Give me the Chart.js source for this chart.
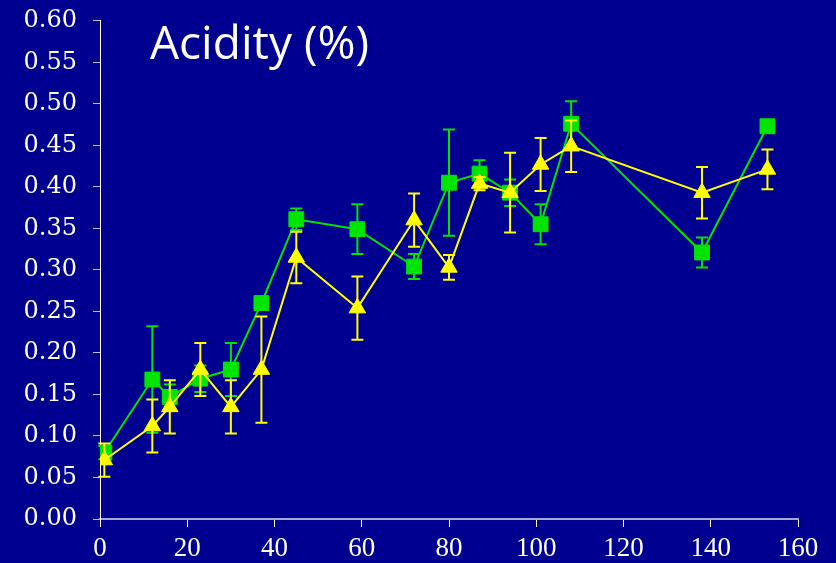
<!DOCTYPE html>
<html>
<head>
<meta charset="utf-8">
<script src="https://cdn.jsdelivr.net/npm/chart.js@4.4.1/dist/chart.umd.min.js"></script>
<style>
  html, body { margin: 0; padding: 0; background: #000090; }
  #wrap { position: relative; width: 836px; height: 563px; }
</style>
</head>
<body>
<div id="wrap"><canvas id="c" width="836" height="563"></canvas></div>
<script>
const days = [1, 12, 16, 23, 30, 37, 45, 59, 72, 80, 87, 94, 101, 108, 138, 153];
const greenValues = [0.080, 0.168, 0.147, 0.169, 0.180, 0.260, 0.361, 0.349, 0.304, 0.405, 0.416, 0.393, 0.355, 0.476, 0.321, 0.473];
const greenErrors = [0.008, 0.064, 0.015, 0.016, 0.032, 0.008, 0.013, 0.030, 0.015, 0.064, 0.016, 0.016, 0.024, 0.027, 0.018, 0.000];
const yellowValues = [0.071, 0.112, 0.135, 0.180, 0.135, 0.180, 0.315, 0.254, 0.360, 0.303, 0.404, 0.393, 0.427, 0.449, 0.393, 0.421];
const yellowErrors = [0.020, 0.032, 0.032, 0.032, 0.032, 0.064, 0.031, 0.038, 0.032, 0.015, 0.008, 0.048, 0.032, 0.031, 0.031, 0.024];
const xTicks = [0, 20, 40, 60, 80, 100, 120, 140, 160];
const yTicks = [0.00, 0.05, 0.10, 0.15, 0.20, 0.25, 0.30, 0.35, 0.40, 0.45, 0.50, 0.55, 0.60];
const chartTitle = 'Acidity (%)';

const GREEN = '#00e400';
const YELLOW = '#ffff00';

const errorBarPlugin = {
  id: 'errorBars',
  beforeDatasetDraw(chart, args) {
    const ds = chart.data.datasets[args.index];
    if (!ds.errors) return;
    const ctx = chart.ctx;
    const xs = chart.scales.x, ys = chart.scales.y;
    ctx.save();
    ctx.strokeStyle = ds.borderColor;
    ctx.lineWidth = 2;
    ds.data.forEach((p, i) => {
      const e = ds.errors[i];
      if (!e) return;
      const px = xs.getPixelForValue(p.x);
      const top = ys.getPixelForValue(p.y + e);
      const bot = ys.getPixelForValue(p.y - e);
      ctx.beginPath();
      ctx.moveTo(px, top); ctx.lineTo(px, bot);
      ctx.moveTo(px - 6, top); ctx.lineTo(px + 6, top);
      ctx.moveTo(px - 6, bot); ctx.lineTo(px + 6, bot);
      ctx.stroke();
    });
    ctx.restore();
  }
};

const titlePlugin = {
  id: 'innerTitle',
  afterDraw(chart) {
    const ctx = chart.ctx;
    ctx.save();
    ctx.fillStyle = '#ffffff';
    ctx.font = '46px "Comic Sans MS", "Open Sans", sans-serif';
    ctx.textBaseline = 'alphabetic';
    ctx.textAlign = 'left';
    ctx.fillText(chartTitle, 150, 59);
    ctx.restore();
  }
};

const bgPlugin = {
  id: 'bg',
  beforeDraw(chart) {
    const ctx = chart.ctx;
    ctx.save();
    ctx.fillStyle = '#000090';
    ctx.fillRect(0, 0, chart.width, chart.height);
    ctx.restore();
  }
};

new Chart(document.getElementById('c'), {
  type: 'line',
  data: {
    datasets: [
      {
        label: 'Yellow',
        data: days.map((d, i) => ({ x: d, y: yellowValues[i] })),
        errors: yellowErrors,
        borderColor: YELLOW,
        backgroundColor: YELLOW,
        borderWidth: 2,
        pointStyle: 'triangle',
        pointRadius: 9.5,
        pointBorderWidth: 1,
        order: 0
      },
      {
        label: 'Green',
        data: days.map((d, i) => ({ x: d, y: greenValues[i] })),
        errors: greenErrors,
        borderColor: GREEN,
        backgroundColor: GREEN,
        borderWidth: 2,
        pointStyle: 'rect',
        pointRadius: 10.5,
        pointBorderWidth: 1,
        order: 1
      }
    ]
  },
  options: {
    responsive: false,
    animation: false,
    devicePixelRatio: 1,
    layout: { padding: { top: 20, right: 38, left: 0, bottom: 0 } },
    plugins: { legend: { display: false }, tooltip: { enabled: false }, title: { display: false } },
    scales: {
      x: {
        type: 'linear',
        min: 0, max: 160,
        afterBuildTicks(scale) { scale.ticks = xTicks.map(v => ({ value: v })); },
        afterFit(scale) { scale.height = 44; },
        grid: { drawOnChartArea: false, drawTicks: true, tickLength: 8, color: '#ffffff', lineWidth: 1 },
        border: { display: true, color: '#a8a8d8', width: 2 },
        ticks: {
          color: '#ffffff',
          font: { family: '"Liberation Serif", serif', size: 27 },
          padding: 6,
          maxRotation: 0,
          autoSkip: false,
          callback: v => String(v)
        }
      },
      y: {
        type: 'linear',
        min: 0, max: 0.6,
        afterBuildTicks(scale) { scale.ticks = yTicks.map(v => ({ value: v })); },
        afterFit(scale) { scale.width = 100; },
        grid: { drawOnChartArea: false, drawTicks: true, tickLength: 7, color: '#c0c0e0', lineWidth: 1 },
        border: { display: true, color: '#ffffff', width: 1 },
        ticks: {
          color: '#ffffff',
          font: { family: '"DejaVu Serif", serif', size: 24, lineHeight: 0.4 },
          padding: 16,
          autoSkip: false,
          callback: v => Number(v).toFixed(2)
        }
      }
    }
  },
  plugins: [bgPlugin, errorBarPlugin, titlePlugin]
});
</script>
</body>
</html>
